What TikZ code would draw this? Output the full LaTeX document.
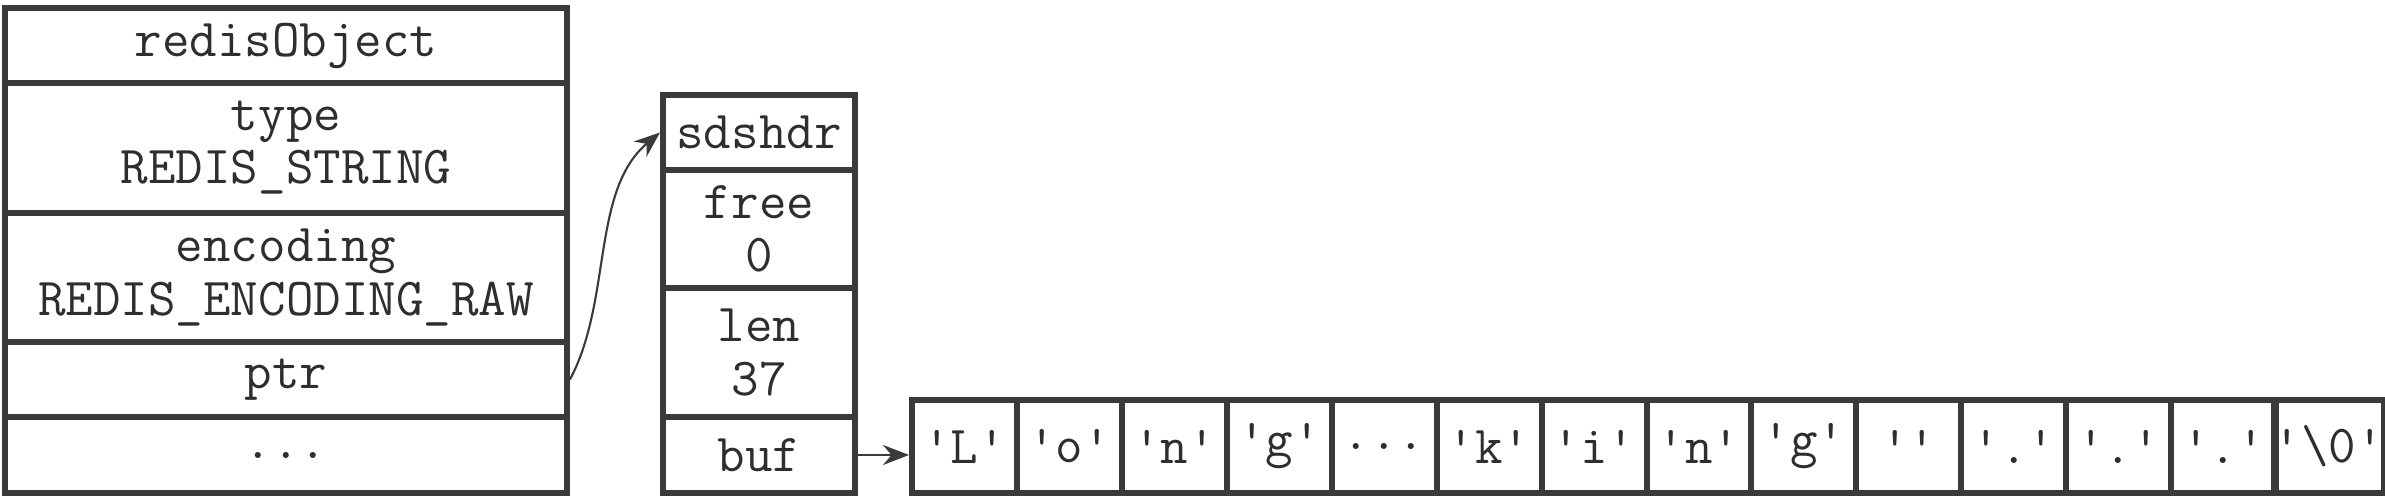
\documentclass[tikz,border=0pt]{standalone}
\usepackage{fontspec}
\usepackage{tikz}
\usetikzlibrary{positioning, arrows.meta}
\definecolor{boxline}{HTML}{3A3A3A}
\definecolor{boxtext}{HTML}{2E2E2E}
\newcommand{\celldots}{...}

\begin{document}
\begin{tikzpicture}[
  cell/.style={draw=boxline, line width=1.7pt, inner sep=0pt, align=center,
    text=boxtext, font=\ttfamily\fontsize{15.2}{15.1}\selectfont},
  conn/.style={draw=boxline, line width=0.6pt, -{Stealth[length=0.26cm, width=0.2cm]}}
]
\useasboundingbox (0,0) rectangle (23.85,-4.97);

% redisObject
\node[cell, minimum width=5.62cm, minimum height=0.75cm] (robj)  at (2.86,-0.455) {redisObject};
\node[cell, minimum width=5.62cm, minimum height=1.30cm] (rtype) at (2.86,-1.48)  {type\\REDIS\_STRING};
\node[cell, minimum width=5.62cm, minimum height=1.29cm] (renc)  at (2.86,-2.775) {encoding\\REDIS\_ENCODING\_RAW};
\node[cell, minimum width=5.62cm, minimum height=0.75cm] (rptr)  at (2.86,-3.795) {ptr};
\node[cell, minimum width=5.62cm, minimum height=0.76cm] (rdots) at (2.86,-4.55)  {...};

% sdshdr
\node[cell, minimum width=1.92cm, minimum height=0.75cm] (shdr)  at (7.59,-1.325) {sdshdr};
\node[cell, minimum width=1.92cm, minimum height=1.18cm] (sfree) at (7.59,-2.29)  {free\\0};
\node[cell, minimum width=1.92cm, minimum height=1.29cm] (slen)  at (7.59,-3.525) {len\\37};
\node[cell, minimum width=1.92cm, minimum height=0.76cm] (sbuf)  at (7.59,-4.55)  {buf};

% buf
\foreach \ch [count=\i] in {'L','o','n','g',\celldots,'k','i','n','g','','.','.','.','\textbackslash 0'}
  \node[cell, minimum width=1.0493cm, minimum height=0.93cm] (c\i) at ({9.12+(\i-0.5)*1.0493},-4.465) {\ch};

\draw[conn] (rptr.east) .. controls +(62:0.9) and +(220:0.9) .. (shdr.west);
\draw[conn] (sbuf.east) -- (sbuf.east -| c1.west);
\end{tikzpicture}
\end{document}
